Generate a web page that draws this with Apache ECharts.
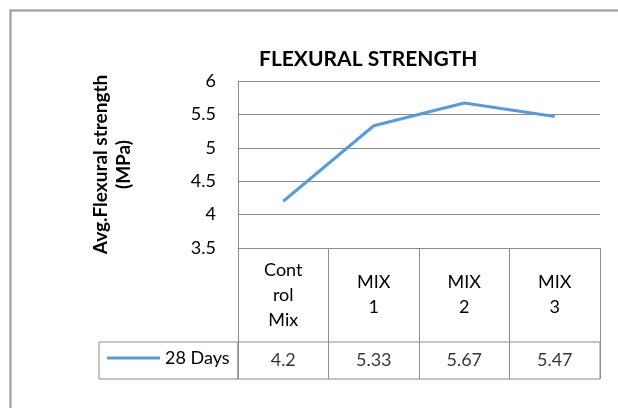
<!DOCTYPE html>
<html>
<head>
    <meta charset="utf-8">
    <title>Flexural strength</title>
    <script src="https://cdn.jsdelivr.net/npm/echarts@6/dist/echarts.min.js"></script>
</head>
<body style="margin:0">
    <div id="main" style="width:618px;height:408px;"></div>
    <script type="text/javascript">
// data
var categories = ['Control Mix', 'MIX 1', 'MIX 2', 'MIX 3'];
var headerLabels = ['Cont\nrol\nMix', 'MIX\n1', 'MIX\n2', 'MIX\n3'];
var seriesName = '28 Days';
var strength28 = [4.2, 5.33, 5.67, 5.47];
var yTicks = { min: 3.5, max: 6, step: 0.5 };

var myChart = echarts.init(document.getElementById('main'));
var font = 'Lato, "Open Sans", sans-serif';
var gray = '#8c8c8c';
var fs = 18;

option = {
    textStyle: { fontFamily: font },
    graphic: [{
        // outer chart frame
        type: 'rect',
        shape: { x: 10.5, y: 10.5, width: 700, height: 500 },
        style: { fill: 'none', stroke: '#999', lineWidth: 2 },
        silent: true
    }],
    title: {
        text: 'FLEXURAL STRENGTH',
        left: 254,
        top: 44,
        textStyle: { fontFamily: font, fontSize: 21, fontWeight: 'bold', color: '#000' }
    },
    legend: {
        left: 102,
        top: 344,
        icon: 'rect',
        itemWidth: 53,
        itemHeight: 3,
        textStyle: { fontFamily: font, fontSize: fs, color: '#000' },
        data: [seriesName]
    },
    grid: [
        { left: 238, top: 81, width: 362, height: 167 },
        { left: 238, top: 342, width: 362, height: 37, show: true, borderColor: gray, borderWidth: 1 },
        { left: 99, top: 342, width: 139, height: 37, show: true, borderColor: gray, borderWidth: 1 }
    ],
    xAxis: [{
        gridIndex: 0,
        type: 'category',
        data: categories,
        boundaryGap: true,
        axisLine: { show: true, lineStyle: { color: gray } },
        axisTick: { show: true, interval: 0, length: 131, lineStyle: { color: gray } },
        axisLabel: {
            interval: 0,
            margin: 47,
            verticalAlign: 'middle',
            lineHeight: 25,
            fontSize: fs,
            color: '#000',
            formatter: function (v, i) { return headerLabels[i]; }
        }
    }, {
        gridIndex: 1,
        type: 'category',
        data: categories,
        show: false
    }, {
        gridIndex: 2,
        type: 'value',
        show: false
    }],
    yAxis: [{
        gridIndex: 0,
        type: 'value',
        min: yTicks.min,
        max: yTicks.max,
        interval: yTicks.step,
        axisLine: { show: true, lineStyle: { color: gray } },
        splitLine: { show: true, lineStyle: { color: gray } },
        axisLabel: { fontSize: fs, color: '#000', margin: 22 },
        name: 'Avg.Flexural strength\n(MPa)',
        nameLocation: 'middle',
        nameGap: 103,
        nameTextStyle: { fontFamily: font, fontSize: 19, fontWeight: 'bold', color: '#000', lineHeight: 23 }
    }, {
        gridIndex: 1,
        type: 'value',
        min: 0,
        max: 1,
        show: false
    }, {
        gridIndex: 2,
        type: 'value',
        show: false
    }],
    series: [{
        name: seriesName,
        type: 'line',
        xAxisIndex: 0,
        yAxisIndex: 0,
        data: strength28,
        symbol: 'none',
        color: '#5B9BD5',
        lineStyle: { width: 3, color: '#5B9BD5' }
    }, {
        // data table row
        type: 'scatter',
        xAxisIndex: 1,
        yAxisIndex: 1,
        symbolSize: 0,
        silent: true,
        data: strength28.map(function (v, i) { return [i, 0.5, v]; }),
        label: {
            show: true,
            position: 'inside',
            fontSize: fs,
            color: '#000',
            formatter: function (p) { return String(p.data[2]); }
        }
    }]
};

myChart.setOption(option);
    </script>
</body>
</html>
